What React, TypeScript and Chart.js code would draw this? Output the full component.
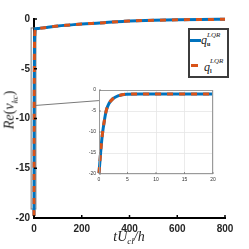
import React, { useEffect, useRef } from 'react';
import { Chart, registerables } from 'chart.js';
Chart.register(...registerables);

// ---- data ----
const mainT = [0, 0.5, 1, 2, 3, 5, 8, 20, 50, 100, 150, 200, 276, 300, 380, 400, 500, 600, 700, 800];
const mainQu = [-19.8, -12, -6.8, -2.7, -1.6, -1.05, -0.98, -0.95, -0.85, -0.7, -0.6, -0.5, -0.4, -0.36, -0.22, -0.2, -0.13, -0.08, -0.05, -0.03];
const mainQl = [-19.8, -12, -6.8, -2.7, -1.6, -1.05, -0.98, -0.95, -0.85, -0.7, -0.6, -0.5, -0.4, -0.36, -0.22, -0.2, -0.13, -0.08, -0.05, -0.03];

const insetT = [0, 0.29, 0.58, 1.0, 1.29, 1.75, 2.46, 3.33, 4.8, 7.1, 10, 15, 20];
const insetQu = [-19.8, -14.8, -10.7, -6.8, -4.8, -3.2, -2.05, -1.4, -1.0, -0.95, -0.95, -0.95, -0.95];
const insetQl = [-19.8, -14.8, -10.7, -6.8, -4.8, -3.2, -2.05, -1.4, -1.0, -0.95, -0.95, -0.95, -0.95];

const mainXTicks = [0, 200, 400, 600, 800];
const mainYTicks = [-20, -15, -10, -5, 0];
const insetXTicks = [0, 5, 10, 15, 20];
const insetYTicks = [-20, -15, -10, -5, 0];

// zoom-indicator rectangle (data coords of main axes) and connector
const zoomRectT = [-12, 8];
const zoomRectV = [-19.1, -0.9];
const connectorT = [0, 272];
const connectorV = [-8.7, -8.2];

const BLUE = '#0072BD';
const ORANGE = '#D95319';

const pts = (xs: number[], ys: number[]) => xs.map((x, i) => ({ x, y: ys[i] }));

const inwardTicks = (color: string, len: number, width: number) => ({
  id: 'inwardTicks',
  afterDraw(chart: any) {
    const { ctx, chartArea, scales } = chart;
    ctx.save();
    ctx.strokeStyle = color;
    ctx.lineWidth = width;
    scales.x.ticks.forEach((t: any) => {
      const px = scales.x.getPixelForValue(t.value);
      ctx.beginPath();
      ctx.moveTo(px, chartArea.bottom);
      ctx.lineTo(px, chartArea.bottom - len);
      ctx.stroke();
    });
    scales.y.ticks.forEach((t: any) => {
      const py = scales.y.getPixelForValue(t.value);
      ctx.beginPath();
      ctx.moveTo(chartArea.left, py);
      ctx.lineTo(chartArea.left + len, py);
      ctx.stroke();
    });
    ctx.restore();
  },
});

const makeDatasets = (t: number[], qu: number[], ql: number[]) => [
  { data: pts(t, qu), borderColor: BLUE, borderWidth: 3, pointRadius: 0, cubicInterpolationMode: 'monotone', clip: false, order: 2 } as any,
  { data: pts(t, ql), borderColor: ORANGE, borderWidth: 3, borderDash: [6, 6], pointRadius: 0, cubicInterpolationMode: 'monotone', clip: false, order: 1 } as any,
];

export default function App() {
  const mainRef = useRef<HTMLCanvasElement>(null);
  const insetRef = useRef<HTMLCanvasElement>(null);

  useEffect(() => {
    const zoomPlugin = {
      id: 'zoomRect',
      beforeDatasetsDraw(chart: any) {
        const { ctx, scales } = chart;
        const x = scales.x, y = scales.y;
        ctx.save();
        ctx.strokeStyle = '#7a7a7a';
        ctx.lineWidth = 1;
        const x0 = x.getPixelForValue(zoomRectT[0]);
        const x1 = x.getPixelForValue(zoomRectT[1]);
        const y0 = y.getPixelForValue(zoomRectV[1]);
        const y1 = y.getPixelForValue(zoomRectV[0]);
        ctx.strokeRect(x0, y0, x1 - x0, y1 - y0);
        ctx.beginPath();
        ctx.moveTo(x.getPixelForValue(connectorT[0]), y.getPixelForValue(connectorV[0]));
        ctx.lineTo(x.getPixelForValue(connectorT[1]), y.getPixelForValue(connectorV[1]));
        ctx.stroke();
        ctx.restore();
      },
    };

    const main = new Chart(mainRef.current!, {
      type: 'line',
      data: { datasets: makeDatasets(mainT, mainQu, mainQl) },
      options: {
        responsive: false,
        animation: false,
        devicePixelRatio: 1,
        layout: { padding: { top: 19, right: 24, left: 0, bottom: 0 } },
        plugins: { legend: { display: false }, tooltip: { enabled: false } },
        scales: {
          x: {
            type: 'linear', min: 0, max: 800,
            afterFit: (s: any) => { s.height = 31; },
            afterBuildTicks: (s: any) => { s.ticks = mainXTicks.map((v) => ({ value: v })); },
            grid: { display: true, drawOnChartArea: false, drawTicks: false },
            border: { display: true, color: '#000', width: 2 },
            ticks: { font: { family: 'Liberation Sans', size: 10, weight: 'bold' }, color: '#262626', padding: 5, maxRotation: 0 },
          },
          y: {
            type: 'linear', min: -20, max: 0,
            afterFit: (s: any) => { s.width = 34; },
            afterBuildTicks: (s: any) => { s.ticks = mainYTicks.map((v) => ({ value: v })); },
            grid: { display: true, drawOnChartArea: false, drawTicks: false },
            border: { display: true, color: '#000', width: 2 },
            ticks: { font: { family: 'Liberation Sans', size: 10, weight: 'bold' }, color: '#262626', padding: 4 },
          },
        },
      } as any,
      plugins: [zoomPlugin, inwardTicks('#000', 3, 1.5)],
    });

    const insetBg = {
      id: 'insetBg',
      beforeDraw(chart: any) {
        const { ctx, chartArea } = chart;
        ctx.save();
        ctx.fillStyle = '#fff';
        ctx.fillRect(chartArea.left, chartArea.top, chartArea.right - chartArea.left, chartArea.bottom - chartArea.top);
        ctx.restore();
      },
      afterDraw(chart: any) {
        const { ctx, chartArea } = chart;
        ctx.save();
        ctx.strokeStyle = '#9a9a9a';
        ctx.lineWidth = 1;
        ctx.strokeRect(chartArea.left + 0.5, chartArea.top + 0.5, chartArea.right - chartArea.left - 1, chartArea.bottom - chartArea.top - 1);
        ctx.restore();
      },
    };

    const inset = new Chart(insetRef.current!, {
      type: 'line',
      data: { datasets: makeDatasets(insetT, insetQu, insetQl) },
      options: {
        responsive: false,
        animation: false,
        devicePixelRatio: 1,
        layout: { padding: { top: 6, right: 7, left: 0, bottom: 0 } },
        plugins: { legend: { display: false }, tooltip: { enabled: false } },
        scales: {
          x: {
            type: 'linear', min: 0, max: 20,
            afterFit: (s: any) => { s.height = 10; },
            afterBuildTicks: (s: any) => { s.ticks = insetXTicks.map((v) => ({ value: v })); },
            grid: { display: true, color: '#e6e6e6', lineWidth: 0.8, drawTicks: false },
            border: { display: false },
            ticks: { font: { family: 'Liberation Sans', size: 5 }, color: '#333', padding: 3, maxRotation: 0 },
          },
          y: {
            type: 'linear', min: -20, max: 0,
            afterFit: (s: any) => { s.width = 19; },
            afterBuildTicks: (s: any) => { s.ticks = insetYTicks.map((v) => ({ value: v })); },
            grid: { display: true, color: '#e6e6e6', lineWidth: 0.8, drawTicks: false },
            border: { display: false },
            ticks: { font: { family: 'Liberation Sans', size: 5 }, color: '#333', padding: 3 },
          },
        },
      } as any,
      plugins: [insetBg, inwardTicks('#777', 2, 0.8)],
    });

    return () => { main.destroy(); inset.destroy(); };
  }, []);

  const serif = '"Liberation Serif", "DejaVu Serif", serif';

  return (
    <div style={{ position: 'fixed', left: 0, top: 0, width: 249, height: 249, background: '#fff', overflow: 'hidden' }}>
      <canvas ref={mainRef} width={249} height={249} style={{ position: 'absolute', left: 0, top: 0, width: 249, height: 249 }} />
      <canvas ref={insetRef} width={140} height={100} style={{ position: 'absolute', left: 80, top: 84, width: 140, height: 100 }} />

      {/* legend */}
      <div style={{ position: 'absolute', left: 188, top: 28, width: 41, height: 50, boxSizing: 'border-box', border: '2px solid #3c3c3c', background: '#fff', fontFamily: serif, color: '#222' }}>
        <div style={{ position: 'absolute', left: 0, top: 9, width: 11, height: 3, background: BLUE }} />
        <span style={{ position: 'absolute', left: 11, top: 4, fontSize: 12, fontStyle: 'italic', lineHeight: '12px' }}>q</span>
        <span style={{ position: 'absolute', left: 17, top: 2, fontSize: 7, fontStyle: 'italic', lineHeight: '7px' }}>LQR</span>
        <span style={{ position: 'absolute', left: 17, top: 11, fontSize: 6, fontWeight: 'bold', lineHeight: '6px' }}>u</span>

        <div style={{ position: 'absolute', left: 1, top: 34, width: 7, height: 3, background: ORANGE }} />
        <span style={{ position: 'absolute', left: 14, top: 31, fontSize: 12, fontStyle: 'italic', lineHeight: '12px' }}>q</span>
        <span style={{ position: 'absolute', left: 20, top: 28, fontSize: 7, fontStyle: 'italic', lineHeight: '7px' }}>LQR</span>
        <span style={{ position: 'absolute', left: 20, top: 38, fontSize: 6, fontWeight: 'bold', lineHeight: '6px' }}>l</span>
      </div>

      {/* y title */}
      <div style={{ position: 'absolute', left: 12, top: 110, transform: 'translate(-50%, -50%) rotate(-90deg)', whiteSpace: 'nowrap', fontFamily: serif, fontSize: 14, lineHeight: '14px', color: '#222' }}>
        <i>Re</i>(<i>v</i><sub style={{ fontSize: 9, fontStyle: 'italic' }}>kc</sub>)
      </div>

      {/* x title */}
      <div style={{ position: 'absolute', left: 129, top: 239, transform: 'translate(-50%, -50%)', whiteSpace: 'nowrap', fontFamily: serif, fontSize: 14, lineHeight: '14px', color: '#222' }}>
        <i>tU</i><sub style={{ fontSize: 9, fontStyle: 'italic' }}>cl</sub><i>/h</i>
      </div>
    </div>
  );
}
